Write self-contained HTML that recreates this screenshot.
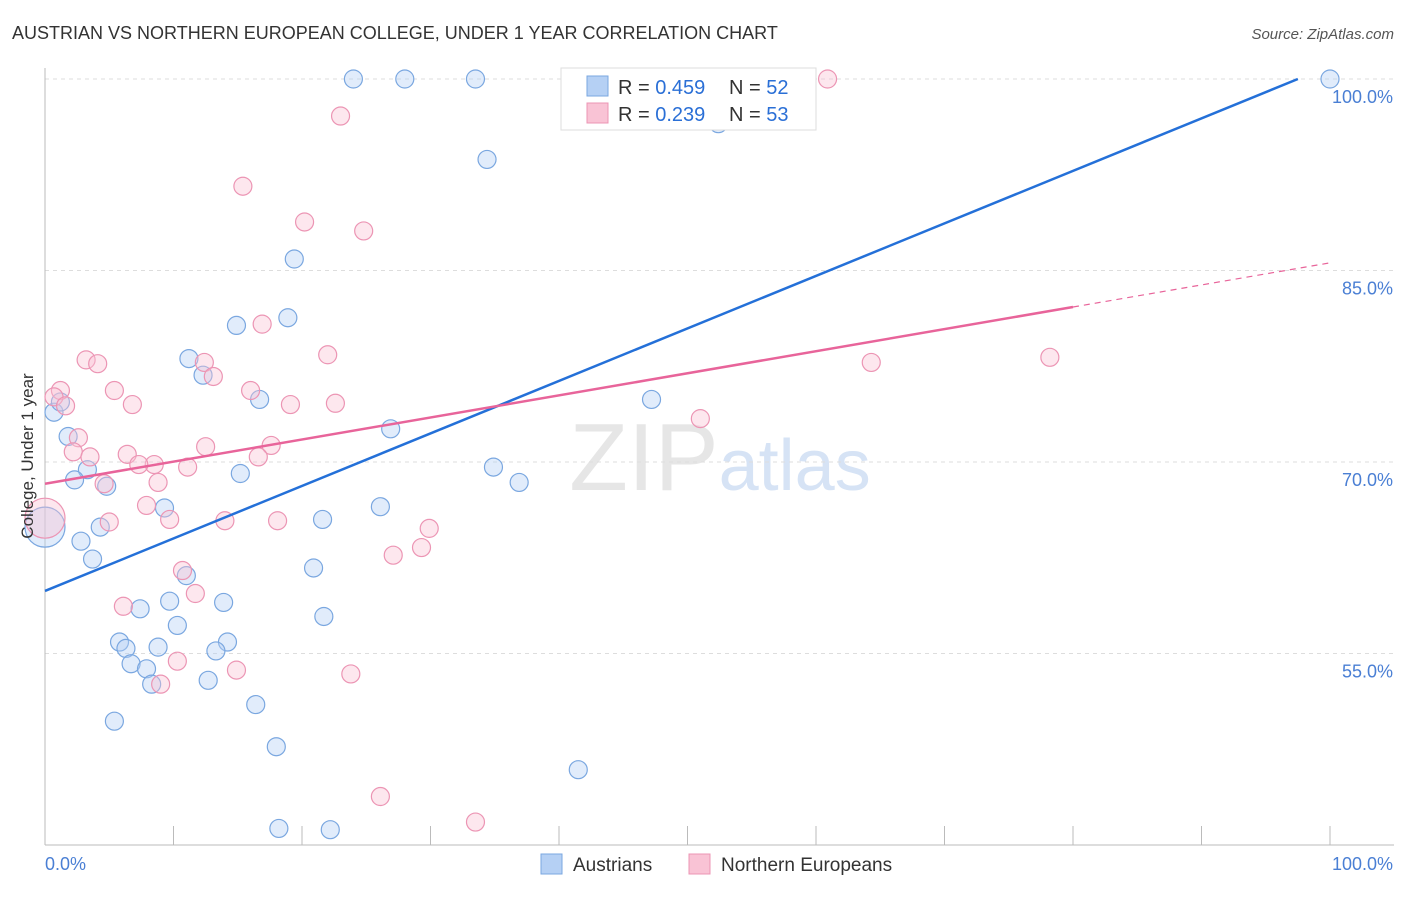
<!DOCTYPE html>
<html><head><meta charset="utf-8"><style>
body{margin:0;background:#fff;font-family:"Liberation Sans",sans-serif}
svg text{font-family:"Liberation Sans",sans-serif}
</style></head><body>
<svg id="chart" width="1406" height="892" xmlns="http://www.w3.org/2000/svg">
<text x="12" y="39" font-size="18" fill="#333">AUSTRIAN VS NORTHERN EUROPEAN COLLEGE, UNDER 1 YEAR CORRELATION CHART</text>
<text x="1394" y="39" font-size="15" fill="#555" text-anchor="end" font-style="italic">Source: ZipAtlas.com</text>
<text x="720" y="490" font-size="96" text-anchor="middle" fill="#e6e6e6" font-family="Liberation Serif">ZIP<tspan fill="#d6e3f5" font-family="Liberation Sans" font-size="72">atlas</tspan></text>
<g id="grid"></g>
<g id="axes"></g>
<g id="pts"></g>
<g id="lines"></g>
<text transform="translate(33,456) rotate(-90)" font-size="17" fill="#333" text-anchor="middle">College, Under 1 year</text>
<g>
<rect x="561" y="68" width="255" height="62" fill="#fff" stroke="#ddd"/>
<rect x="587" y="76" width="21" height="20" fill="#b5d0f4" stroke="#7aa7e0"/>
<rect x="587" y="103" width="21" height="20" fill="#f9c3d5" stroke="#ec95b4"/>
<text x="618" y="94" font-size="20" fill="#333">R = <tspan fill="#2a6fd6">0.459</tspan></text>
<text x="729" y="94" font-size="20" fill="#333">N = <tspan fill="#2a6fd6">52</tspan></text>
<text x="618" y="121" font-size="20" fill="#333">R = <tspan fill="#2a6fd6">0.239</tspan></text>
<text x="729" y="121" font-size="20" fill="#333">N = <tspan fill="#2a6fd6">53</tspan></text>
</g>
<g>
<rect x="541" y="854" width="21" height="20" fill="#b5d0f4" stroke="#7aa7e0"/>
<text x="573" y="871" font-size="19" fill="#333">Austrians</text>
<rect x="689" y="854" width="21" height="20" fill="#f9c3d5" stroke="#ec95b4"/>
<text x="721" y="871" font-size="19" fill="#333">Northern Europeans</text>
</g>
</svg>
<script>
const yTicks=[100,85,70,55];
const xTickLabels=["0.0%","100.0%"];
const blueX=[24,28,33.5,100,52.4,34.4,19.4,18.9,14.9,11.2,12.3,16.7,0.7,1.8,26.9,47.2,34.9,36.9,15.2,3.3,2.3,4.8,9.3,26.1,21.6,4.3,2.8,3.7,20.9,11,9.7,7.4,13.9,21.7,10.3,5.8,14.2,6.3,8.8,13.3,6.7,7.9,8.3,12.7,16.4,5.4,18,41.5,18.2,22.2,0,1.2];
const blueY=[100,100,100,100,96.5,93.7,85.9,81.3,80.7,78.1,76.8,74.9,73.9,72,72.6,74.9,69.6,68.4,69.1,69.4,68.6,68.1,66.4,66.5,65.5,64.9,63.8,62.4,61.7,61.1,59.1,58.5,59,57.9,57.2,55.9,55.9,55.4,55.5,55.2,54.2,53.8,52.6,52.9,51,49.7,47.7,45.9,41.3,41.2,64.9,74.7];
const pinkX=[40.9,60.9,23,15.4,20.2,24.8,16.9,3.2,4.1,22,12.4,13.1,64.3,78.2,1.2,5.4,0.7,1.6,6.8,16,19.1,22.6,2.6,51,2.2,3.5,6.4,8.5,7.3,11.1,12.5,17.6,16.6,4.6,8.8,7.9,9.7,5,14,18.1,29.9,29.3,27.1,10.7,11.7,6.1,10.3,14.9,23.8,9,26.1,33.5,0];
const pinkY=[100,100,97.1,91.6,88.8,88.1,80.8,78,77.7,78.4,77.8,76.7,77.8,78.2,75.6,75.6,75.1,74.4,74.5,75.6,74.5,74.6,71.9,73.4,70.8,70.4,70.6,69.8,69.8,69.6,71.2,71.3,70.4,68.3,68.4,66.6,65.5,65.3,65.4,65.4,64.8,63.3,62.7,61.5,59.7,58.7,54.4,53.7,53.4,52.6,43.8,41.8,65.6];
const X=v=>45+v*12.85, Y=v=>79+(100-v)*12.767;
const NS="http://www.w3.org/2000/svg";
function mk(p,t,a){const e=document.createElementNS(NS,t);for(const k in a)e.setAttribute(k,a[k]);p.appendChild(e);return e;}
const grid=document.getElementById('grid'),axes=document.getElementById('axes'),pts=document.getElementById('pts'),lines=document.getElementById('lines');
yTicks.forEach(t=>{const l=mk(grid,'line',{x1:45,x2:1394,y1:Y(t),y2:Y(t),stroke:'#ddd','stroke-dasharray':'4,4'});


const tx=mk(grid,'text',{x:1393,y:Y(t)+24,'font-size':18,fill:'#4a7fd4','text-anchor':'end'});tx.textContent=t.toFixed(1)+'%';

});
const ax=mk(axes,'line',{x1:45,x2:1394,y1:845,y2:845,stroke:'#bbb'});


const ay=mk(axes,'line',{x1:45,x2:45,y1:68,y2:845,stroke:'#bbb'});


for(let i=0;i<=10;i++){const t=mk(axes,'line',{x1:X(i*10),x2:X(i*10),y1:826,y2:845,stroke:'#bbb'});

}
[[0,'start',45],[1,'end',1393]].forEach(([i,a,x])=>{const t=mk(axes,'text',{x:x,y:870,'font-size':18,fill:'#4a7fd4','text-anchor':a});t.textContent=xTickLabels[i];

});
function dots(xs,ys,fill,stroke,name){xs.forEach((x,i)=>{const big=(x===0&&i===xs.length-(name==='blue-point'?2:1));
const c=mk(pts,'circle',{cx:X(x),cy:Y(ys[i]),r:big?20:9,fill:fill,'fill-opacity':0.4,stroke:stroke,'stroke-width':1.2});

});}
dots(blueX,blueY,'#b5d0f4','#7aa7e0','blue-point');
dots(pinkX,pinkY,'#f9c3d5','#ec95b4','pink-point');
const bl=mk(lines,'line',{x1:X(0),y1:Y(59.9),x2:X(97.5),y2:Y(100),stroke:'#2470d8','stroke-width':2.5});


const pa=68.3,pb=85.6,py=v=>pa+(pb-pa)*v/100;
const pl=mk(lines,'line',{x1:X(0),y1:Y(py(0)),x2:X(80),y2:Y(py(80)),stroke:'#e8649a','stroke-width':2.5});


const pd=mk(lines,'line',{x1:X(80),y1:Y(py(80)),x2:X(100),y2:Y(py(100)),stroke:'#e8649a','stroke-width':1.2,'stroke-dasharray':'6,5'});


</script>
</body></html>
